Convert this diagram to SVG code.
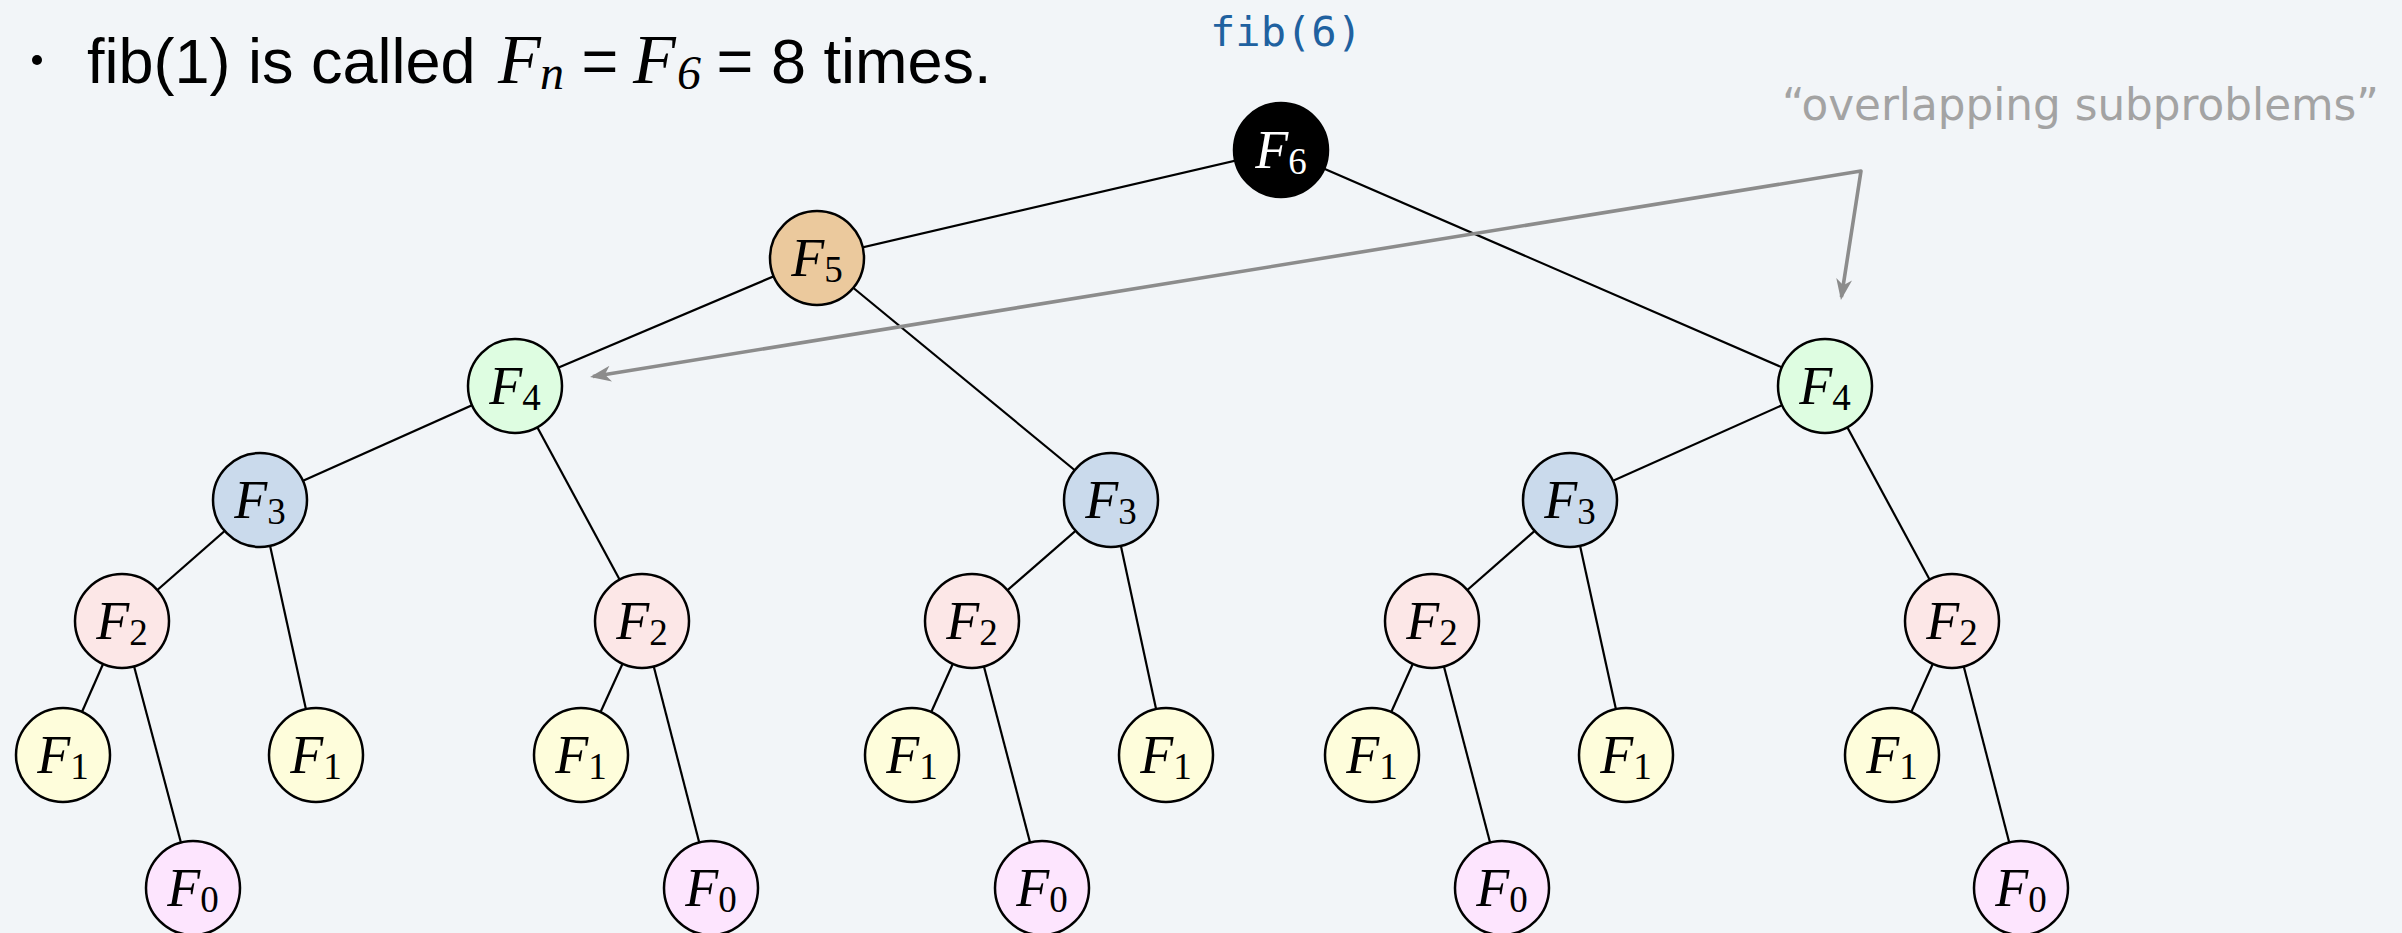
<svg xmlns="http://www.w3.org/2000/svg" width="2402" height="933" viewBox="0 0 2402 933">
  <style>
    .edge { stroke: #000; stroke-width: 2.2; fill: none; }
    .node circle { stroke: #000; stroke-width: 2.5; }
    .lbl { font-family: "Liberation Serif", "Times New Roman", serif; font-size: 54px; fill: #000; }
    .lbl .v { font-style: italic; }
    .lbl .s { font-size: 37px; }
    .f6 circle { fill: #000; }
    .f6 .lbl { fill: #fff; }
    .f5 circle { fill: #ebc99d; }
    .f4 circle { fill: #defde1; }
    .f3 circle { fill: #cadaec; }
    .f2 circle { fill: #fce7e7; }
    .f1 circle { fill: #fefddb; }
    .f0 circle { fill: #fde5fe; }
    .sans { font-family: "Liberation Sans", Arial, sans-serif; font-size: 63px; fill: #000; }
    .math { font-family: "Liberation Serif", "Times New Roman", serif; font-style: italic; fill: #000; }
    .note { stroke: #8c8c8c; stroke-width: 3.6; fill: none; stroke-linejoin: round; }
  </style>
  <defs>
    <marker id="head" markerUnits="userSpaceOnUse" markerWidth="22" markerHeight="16" refX="18" refY="8" orient="auto-start-reverse" viewBox="0 0 22 16">
      <path d="M0,0 L21,8 L0,16 L6,8 Z" fill="#8c8c8c"/>
    </marker>
  </defs>

  <rect width="2402" height="933" fill="#f2f5f8"/>

  <!-- heading -->
  <g id="caption">
    <circle cx="37" cy="60" r="5" fill="#000"/>
    <text class="sans" x="87" y="83">fib(1) is called</text>
    <text class="math" x="498" y="83" font-size="70">F</text>
    <text class="math" x="540" y="89" font-size="48">n</text>
    <text class="sans" x="600" y="83" text-anchor="middle">=</text>
    <text class="math" x="633" y="83" font-size="70">F</text>
    <text class="math" x="677" y="89" font-size="48">6</text>
    <text class="sans" x="735" y="83" text-anchor="middle">=</text>
    <text class="sans" x="771" y="83">8 times.</text>
  </g>

  <g id="call-label">
    <text x="1210" y="46" font-family="'DejaVu Sans Mono', 'Liberation Mono', monospace" font-size="40" fill="#2061a0" textLength="152" lengthAdjust="spacingAndGlyphs">fib(6)</text>
  </g>

  <g id="overlap-label">
    <text x="1782" y="120" font-family="'DejaVu Sans', 'Noto Sans', sans-serif" font-size="44" fill="#a3a3a3" textLength="597" lengthAdjust="spacingAndGlyphs">“overlapping subproblems”</text>
  </g>

  <!-- recursion tree edges -->
  <g id="connectors">
    <line class="edge" x1="1281" y1="150" x2="817" y2="258"/>
    <line class="edge" x1="1281" y1="150" x2="1825" y2="386"/>
    <line class="edge" x1="817" y1="258" x2="515" y2="386"/>
    <line class="edge" x1="817" y1="258" x2="1111" y2="500"/>
    <line class="edge" x1="515" y1="386" x2="260" y2="500"/>
    <line class="edge" x1="515" y1="386" x2="642" y2="621"/>
    <line class="edge" x1="260" y1="500" x2="122" y2="621"/>
    <line class="edge" x1="260" y1="500" x2="316" y2="755"/>
    <line class="edge" x1="122" y1="621" x2="63" y2="755"/>
    <line class="edge" x1="122" y1="621" x2="193" y2="888"/>
    <line class="edge" x1="642" y1="621" x2="581" y2="755"/>
    <line class="edge" x1="642" y1="621" x2="711" y2="888"/>
    <line class="edge" x1="1111" y1="500" x2="972" y2="621"/>
    <line class="edge" x1="1111" y1="500" x2="1166" y2="755"/>
    <line class="edge" x1="972" y1="621" x2="912" y2="755"/>
    <line class="edge" x1="972" y1="621" x2="1042" y2="888"/>
    <line class="edge" x1="1825" y1="386" x2="1570" y2="500"/>
    <line class="edge" x1="1825" y1="386" x2="1952" y2="621"/>
    <line class="edge" x1="1570" y1="500" x2="1432" y2="621"/>
    <line class="edge" x1="1570" y1="500" x2="1626" y2="755"/>
    <line class="edge" x1="1432" y1="621" x2="1372" y2="755"/>
    <line class="edge" x1="1432" y1="621" x2="1502" y2="888"/>
    <line class="edge" x1="1952" y1="621" x2="1892" y2="755"/>
    <line class="edge" x1="1952" y1="621" x2="2021" y2="888"/>
    <!-- annotation arrows pointing at the two F4 calls -->
    <path class="note" d="M593,376.5 L1861,171 L1841.4,297" marker-start="url(#head)" marker-end="url(#head)"/>
  </g>

  <!-- nodes -->
  <g id="n-f6" class="node f6"><circle cx="1281" cy="150" r="47"/><text class="lbl" x="1281" y="168" text-anchor="middle"><tspan class="v">F</tspan><tspan class="s" dy="6">6</tspan></text></g>
  <g id="n-f5" class="node f5"><circle cx="817" cy="258" r="47"/><text class="lbl" x="817" y="276" text-anchor="middle"><tspan class="v">F</tspan><tspan class="s" dy="6">5</tspan></text></g>
  <g id="n-f4a" class="node f4"><circle cx="515" cy="386" r="47"/><text class="lbl" x="515" y="404" text-anchor="middle"><tspan class="v">F</tspan><tspan class="s" dy="6">4</tspan></text></g>
  <g id="n-f4b" class="node f4"><circle cx="1825" cy="386" r="47"/><text class="lbl" x="1825" y="404" text-anchor="middle"><tspan class="v">F</tspan><tspan class="s" dy="6">4</tspan></text></g>
  <g id="n-f3a" class="node f3"><circle cx="260" cy="500" r="47"/><text class="lbl" x="260" y="518" text-anchor="middle"><tspan class="v">F</tspan><tspan class="s" dy="6">3</tspan></text></g>
  <g id="n-f3b" class="node f3"><circle cx="1111" cy="500" r="47"/><text class="lbl" x="1111" y="518" text-anchor="middle"><tspan class="v">F</tspan><tspan class="s" dy="6">3</tspan></text></g>
  <g id="n-f3c" class="node f3"><circle cx="1570" cy="500" r="47"/><text class="lbl" x="1570" y="518" text-anchor="middle"><tspan class="v">F</tspan><tspan class="s" dy="6">3</tspan></text></g>
  <g id="n-f2a" class="node f2"><circle cx="122" cy="621" r="47"/><text class="lbl" x="122" y="639" text-anchor="middle"><tspan class="v">F</tspan><tspan class="s" dy="6">2</tspan></text></g>
  <g id="n-f2b" class="node f2"><circle cx="642" cy="621" r="47"/><text class="lbl" x="642" y="639" text-anchor="middle"><tspan class="v">F</tspan><tspan class="s" dy="6">2</tspan></text></g>
  <g id="n-f2c" class="node f2"><circle cx="972" cy="621" r="47"/><text class="lbl" x="972" y="639" text-anchor="middle"><tspan class="v">F</tspan><tspan class="s" dy="6">2</tspan></text></g>
  <g id="n-f2d" class="node f2"><circle cx="1432" cy="621" r="47"/><text class="lbl" x="1432" y="639" text-anchor="middle"><tspan class="v">F</tspan><tspan class="s" dy="6">2</tspan></text></g>
  <g id="n-f2e" class="node f2"><circle cx="1952" cy="621" r="47"/><text class="lbl" x="1952" y="639" text-anchor="middle"><tspan class="v">F</tspan><tspan class="s" dy="6">2</tspan></text></g>
  <g id="n-f1a" class="node f1"><circle cx="63" cy="755" r="47"/><text class="lbl" x="63" y="773" text-anchor="middle"><tspan class="v">F</tspan><tspan class="s" dy="6">1</tspan></text></g>
  <g id="n-f1b" class="node f1"><circle cx="316" cy="755" r="47"/><text class="lbl" x="316" y="773" text-anchor="middle"><tspan class="v">F</tspan><tspan class="s" dy="6">1</tspan></text></g>
  <g id="n-f1c" class="node f1"><circle cx="581" cy="755" r="47"/><text class="lbl" x="581" y="773" text-anchor="middle"><tspan class="v">F</tspan><tspan class="s" dy="6">1</tspan></text></g>
  <g id="n-f1d" class="node f1"><circle cx="912" cy="755" r="47"/><text class="lbl" x="912" y="773" text-anchor="middle"><tspan class="v">F</tspan><tspan class="s" dy="6">1</tspan></text></g>
  <g id="n-f1e" class="node f1"><circle cx="1166" cy="755" r="47"/><text class="lbl" x="1166" y="773" text-anchor="middle"><tspan class="v">F</tspan><tspan class="s" dy="6">1</tspan></text></g>
  <g id="n-f1f" class="node f1"><circle cx="1372" cy="755" r="47"/><text class="lbl" x="1372" y="773" text-anchor="middle"><tspan class="v">F</tspan><tspan class="s" dy="6">1</tspan></text></g>
  <g id="n-f1g" class="node f1"><circle cx="1626" cy="755" r="47"/><text class="lbl" x="1626" y="773" text-anchor="middle"><tspan class="v">F</tspan><tspan class="s" dy="6">1</tspan></text></g>
  <g id="n-f1h" class="node f1"><circle cx="1892" cy="755" r="47"/><text class="lbl" x="1892" y="773" text-anchor="middle"><tspan class="v">F</tspan><tspan class="s" dy="6">1</tspan></text></g>
  <g id="n-f0a" class="node f0"><circle cx="193" cy="888" r="47"/><text class="lbl" x="193" y="906" text-anchor="middle"><tspan class="v">F</tspan><tspan class="s" dy="6">0</tspan></text></g>
  <g id="n-f0b" class="node f0"><circle cx="711" cy="888" r="47"/><text class="lbl" x="711" y="906" text-anchor="middle"><tspan class="v">F</tspan><tspan class="s" dy="6">0</tspan></text></g>
  <g id="n-f0c" class="node f0"><circle cx="1042" cy="888" r="47"/><text class="lbl" x="1042" y="906" text-anchor="middle"><tspan class="v">F</tspan><tspan class="s" dy="6">0</tspan></text></g>
  <g id="n-f0d" class="node f0"><circle cx="1502" cy="888" r="47"/><text class="lbl" x="1502" y="906" text-anchor="middle"><tspan class="v">F</tspan><tspan class="s" dy="6">0</tspan></text></g>
  <g id="n-f0e" class="node f0"><circle cx="2021" cy="888" r="47"/><text class="lbl" x="2021" y="906" text-anchor="middle"><tspan class="v">F</tspan><tspan class="s" dy="6">0</tspan></text></g>
</svg>
